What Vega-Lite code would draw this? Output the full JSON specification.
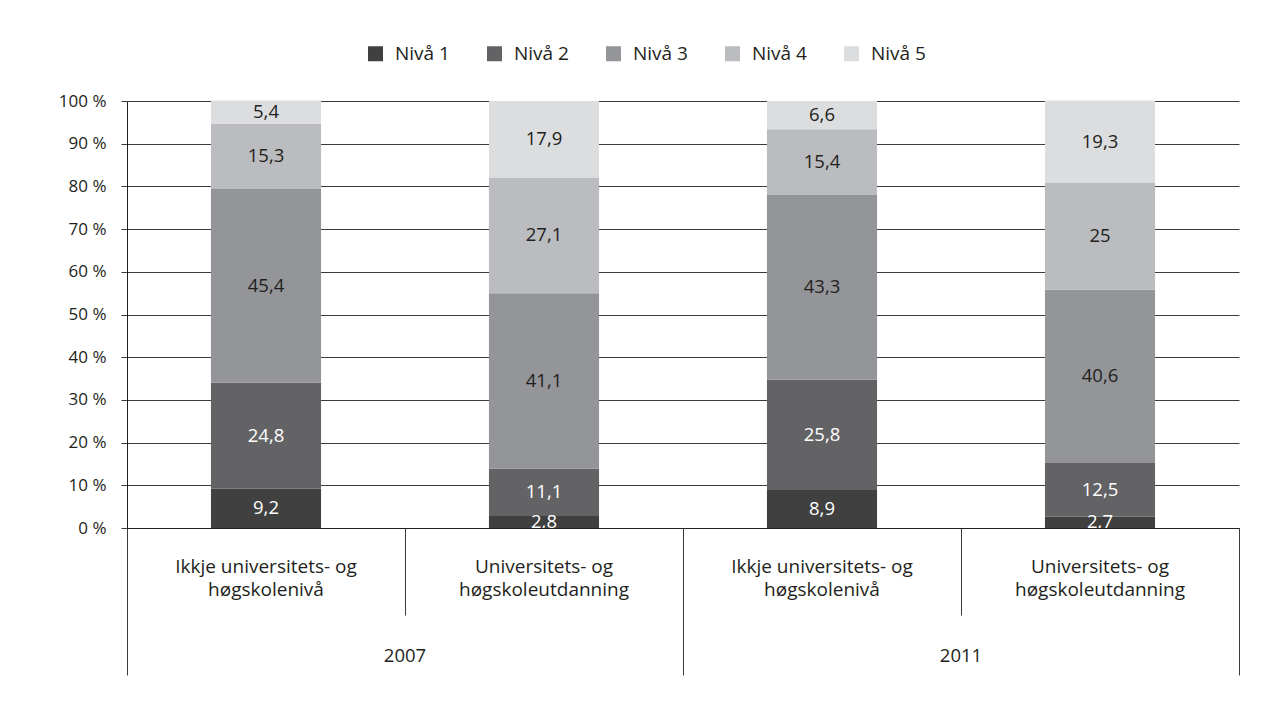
{
  "$schema": "https://vega.github.io/schema/vega-lite/v6.json",
  "autosize": "none",
  "width": 1112,
  "height": 427,
  "padding": {"left": 127, "top": 101, "right": 43, "bottom": 177},
  "background": "white",
  "config": {
    "font": "Open Sans",
    "view": {"stroke": null},
    "axis": {"labelFont": "Open Sans", "labelFontSize": 17, "labelColor": "#231f20"},
    "legend": {"labelFont": "Open Sans", "labelFontSize": 19, "labelColor": "#231f20"}
  },
  "data": {
    "values": [
      {"bar": "2007|Ikkje universitets- og|høgskolenivå", "year": "2007", "niva": "Nivå 1", "value": 9.2},
      {"bar": "2007|Ikkje universitets- og|høgskolenivå", "year": "2007", "niva": "Nivå 2", "value": 24.8},
      {"bar": "2007|Ikkje universitets- og|høgskolenivå", "year": "2007", "niva": "Nivå 3", "value": 45.4},
      {"bar": "2007|Ikkje universitets- og|høgskolenivå", "year": "2007", "niva": "Nivå 4", "value": 15.3},
      {"bar": "2007|Ikkje universitets- og|høgskolenivå", "year": "2007", "niva": "Nivå 5", "value": 5.4},
      {"bar": "2007|Universitets- og|høgskoleutdanning", "year": "2007", "niva": "Nivå 1", "value": 2.8},
      {"bar": "2007|Universitets- og|høgskoleutdanning", "year": "2007", "niva": "Nivå 2", "value": 11.1},
      {"bar": "2007|Universitets- og|høgskoleutdanning", "year": "2007", "niva": "Nivå 3", "value": 41.1},
      {"bar": "2007|Universitets- og|høgskoleutdanning", "year": "2007", "niva": "Nivå 4", "value": 27.1},
      {"bar": "2007|Universitets- og|høgskoleutdanning", "year": "2007", "niva": "Nivå 5", "value": 17.9},
      {"bar": "2011|Ikkje universitets- og|høgskolenivå", "year": "2011", "niva": "Nivå 1", "value": 8.9},
      {"bar": "2011|Ikkje universitets- og|høgskolenivå", "year": "2011", "niva": "Nivå 2", "value": 25.8},
      {"bar": "2011|Ikkje universitets- og|høgskolenivå", "year": "2011", "niva": "Nivå 3", "value": 43.3},
      {"bar": "2011|Ikkje universitets- og|høgskolenivå", "year": "2011", "niva": "Nivå 4", "value": 15.4},
      {"bar": "2011|Ikkje universitets- og|høgskolenivå", "year": "2011", "niva": "Nivå 5", "value": 6.6},
      {"bar": "2011|Universitets- og|høgskoleutdanning", "year": "2011", "niva": "Nivå 1", "value": 2.7},
      {"bar": "2011|Universitets- og|høgskoleutdanning", "year": "2011", "niva": "Nivå 2", "value": 12.5},
      {"bar": "2011|Universitets- og|høgskoleutdanning", "year": "2011", "niva": "Nivå 3", "value": 40.6},
      {"bar": "2011|Universitets- og|høgskoleutdanning", "year": "2011", "niva": "Nivå 4", "value": 25},
      {"bar": "2011|Universitets- og|høgskoleutdanning", "year": "2011", "niva": "Nivå 5", "value": 19.3}
    ]
  },
  "transform": [
    {"stack": "value", "groupby": ["bar"], "sort": [{"field": "niva", "order": "ascending"}], "as": ["v0", "v1"]},
    {"calculate": "(datum.v0 + datum.v1) / 2", "as": "mid"},
    {"calculate": "replace(format(datum.value, '.1~f'), '.', ',')", "as": "lab"}
  ],
  "layer": [
    {
      "layer": [
        {
          "mark": {"type": "bar", "width": {"band": 0.396}},
          "encoding": {
            "x": {
              "field": "bar", "type": "nominal", "sort": null,
              "scale": {"paddingInner": 0, "paddingOuter": 0},
              "axis": {
                "title": null, "orient": "bottom", "labelAngle": 0,
                "bandPosition": 1, "tickExtra": true, "tickSize": 87, "tickColor": "#3a3a3a",
                "domainColor": "#231f20",
                "labelExpr": "slice(split(datum.label, '|'), 1)",
                "labelFontSize": 19, "labelLimit": 400,
                "labelBaseline": "top", "labelPadding": -58, "labelLineHeight": 23.5,
                "labelOverlap": false, "labelBound": false
              }
            },
            "y": {
              "field": "v0", "type": "quantitative",
              "scale": {"domain": [0, 100], "nice": false},
              "axis": {
                "title": null, "values": [0, 10, 20, 30, 40, 50, 60, 70, 80, 90, 100],
                "labelExpr": "datum.value + ' %'", "grid": true, "gridColor": "#3a3a3a",
                "tickSize": 6, "tickColor": "#3a3a3a", "labelPadding": 15, "domainColor": "#231f20"
              }
            },
            "y2": {"field": "v1"},
            "color": {
              "field": "niva", "type": "nominal",
              "scale": {"domain": ["Nivå 1", "Nivå 2", "Nivå 3", "Nivå 4", "Nivå 5"], "range": ["#404041", "#636365", "#939598", "#bbbcbf", "#dcdddf"]},
              "legend": {
                "orient": "none", "legendX": 239, "legendY": -57, "direction": "horizontal",
                "title": null, "symbolType": "square", "symbolSize": 225, "symbolStrokeWidth": 0,
                "symbolOpacity": 1, "labelOffset": 10, "columnPadding": 35
              }
            }
          }
        },
        {
          "mark": {"type": "text", "fontSize": 18.5, "baseline": "middle", "clip": true},
          "encoding": {
            "x": {"field": "bar", "type": "nominal", "sort": null},
            "y": {"field": "mid", "type": "quantitative"},
            "text": {"field": "lab"},
            "color": {
              "condition": {"test": "datum.niva == 'Nivå 1' || datum.niva == 'Nivå 2'", "value": "white"},
              "value": "#231f20"
            }
          }
        }
      ]
    },
    {
      "mark": {"type": "point", "opacity": 0},
      "encoding": {
        "x": {
          "field": "year", "type": "nominal",
          "scale": {"type": "band", "paddingInner": 0, "paddingOuter": 0},
          "axis": {
            "title": null, "orient": "bottom", "labelAngle": 0, "domain": false,
            "bandPosition": 1, "tickExtra": true, "tickSize": 147, "tickColor": "#3a3a3a",
            "labelFontSize": 18.5,
            "labelBaseline": "top", "labelPadding": -29
          }
        }
      }
    }
  ],
  "resolve": {"scale": {"x": "independent"}, "axis": {"x": "independent"}}
}
